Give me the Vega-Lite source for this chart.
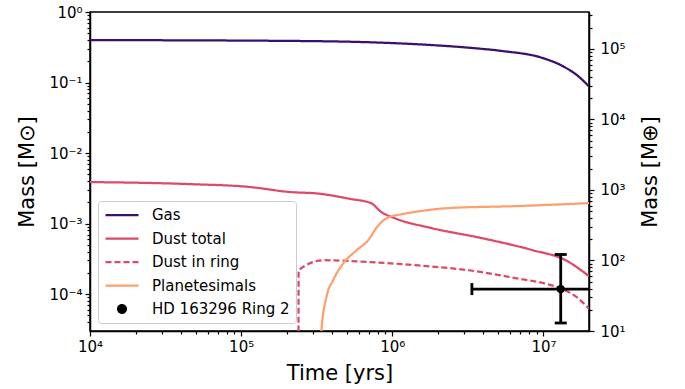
{
  "$schema": "https://vega.github.io/schema/vega-lite/v6.json",
  "width": 499,
  "height": 319,
  "autosize": {"type": "none"},
  "padding": {"left": 90, "top": 12, "right": 96, "bottom": 58},
  "background": "white",
  "config": {
    "view": {"stroke": "black", "strokeWidth": 1.5},
    "font": "DejaVu Sans",
    "axis": {
      "domainColor": "black", "domainWidth": 1.5, "tickColor": "black", "tickWidth": 1.2,
      "labelFont": "DejaVu Sans", "labelFontSize": 15, "labelColor": "black",
      "titleFont": "DejaVu Sans", "titleFontSize": 21, "titleFontWeight": "normal", "titleColor": "black",
      "grid": false, "labelPadding": 3
    }
  },
  "datasets": {
    "lines": [
      {"series": "Gas", "t": 10000, "mass": 0.40},
      {"series": "Gas", "t": 247000, "mass": 0.388},
      {"series": "Gas", "t": 985000, "mass": 0.363},
      {"series": "Gas", "t": 1820000, "mass": 0.340},
      {"series": "Gas", "t": 3360000, "mass": 0.309},
      {"series": "Gas", "t": 5330000, "mass": 0.28},
      {"series": "Gas", "t": 9850000, "mass": 0.223},
      {"series": "Gas", "t": 13400000, "mass": 0.171},
      {"series": "Gas", "t": 16900000, "mass": 0.124},
      {"series": "Gas", "t": 20000000, "mass": 0.088},
      {"series": "Dust total", "t": 10000, "mass": 0.00388},
      {"series": "Dust total", "t": 45700, "mass": 0.00363},
      {"series": "Dust total", "t": 115000, "mass": 0.0033},
      {"series": "Dust total", "t": 212000, "mass": 0.0028},
      {"series": "Dust total", "t": 321000, "mass": 0.00267},
      {"series": "Dust total", "t": 533000, "mass": 0.00223},
      {"series": "Dust total", "t": 724000, "mass": 0.00195},
      {"series": "Dust total", "t": 845000, "mass": 0.00146},
      {"series": "Dust total", "t": 1030000, "mass": 0.0012},
      {"series": "Dust total", "t": 1820000, "mass": 0.000863},
      {"series": "Dust total", "t": 3920000, "mass": 0.000622},
      {"series": "Dust total", "t": 8450000, "mass": 0.000421},
      {"series": "Dust total", "t": 14000000, "mass": 0.000303},
      {"series": "Dust total", "t": 20000000, "mass": 0.00018},
      {"series": "Dust in ring", "t": 239000, "mass": 0.000000001},
      {"series": "Dust in ring", "t": 240000, "mass": 0.000219},
      {"series": "Dust in ring", "t": 352000, "mass": 0.000303},
      {"series": "Dust in ring", "t": 724000, "mass": 0.000284},
      {"series": "Dust in ring", "t": 1400000, "mass": 0.000258},
      {"series": "Dust in ring", "t": 3920000, "mass": 0.000205},
      {"series": "Dust in ring", "t": 6500000, "mass": 0.000169},
      {"series": "Dust in ring", "t": 10000000, "mass": 0.000143},
      {"series": "Dust in ring", "t": 12800000, "mass": 0.000122},
      {"series": "Dust in ring", "t": 16900000, "mass": 0.000088},
      {"series": "Dust in ring", "t": 20000000, "mass": 0.000062},
      {"series": "Planetesimals", "t": 337000, "mass": 0.000012},
      {"series": "Planetesimals", "t": 340000, "mass": 0.000031},
      {"series": "Planetesimals", "t": 367000, "mass": 0.000092},
      {"series": "Planetesimals", "t": 406000, "mass": 0.000158},
      {"series": "Planetesimals", "t": 473000, "mass": 0.000272},
      {"series": "Planetesimals", "t": 581000, "mass": 0.00042},
      {"series": "Planetesimals", "t": 693000, "mass": 0.000583},
      {"series": "Planetesimals", "t": 791000, "mass": 0.00089},
      {"series": "Planetesimals", "t": 920000, "mass": 0.0012},
      {"series": "Planetesimals", "t": 1150000, "mass": 0.00136},
      {"series": "Planetesimals", "t": 1400000, "mass": 0.00146},
      {"series": "Planetesimals", "t": 2360000, "mass": 0.00166},
      {"series": "Planetesimals", "t": 6500000, "mass": 0.00177},
      {"series": "Planetesimals", "t": 20000000, "mass": 0.00195}
    ],
    "obs": [
      {"series": "HD 163296 Ring 2", "t": 13000000, "tmin": 3360000, "tmax": 25000000, "mass": 0.000118, "mmin": 0.000039, "mmax": 0.000365, "mass_earth": 39.3}
    ]
  },
  "layer": [
    {
      "layer": [
        {
          "data": {"name": "lines"},
          "mark": {"type": "line", "strokeWidth": 2.25, "clip": true, "interpolate": "monotone"},
          "encoding": {
            "x": {
              "field": "t", "type": "quantitative",
              "scale": {"type": "log", "domain": [10000, 20000000], "nice": false},
              "axis": {
                "title": "Time [yrs]", "titlePadding": 8,
                "values": [10000, 20000, 30000, 40000, 50000, 60000, 70000, 80000, 90000, 100000, 200000, 300000, 400000, 500000, 600000, 700000, 800000, 900000, 1000000, 2000000, 3000000, 4000000, 5000000, 6000000, 7000000, 8000000, 9000000, 10000000],
                "labelExpr": "abs(log(datum.value)/LN10 - round(log(datum.value)/LN10)) < 0.001 ? ['10⁴','10⁵','10⁶','10⁷'][round(log(datum.value)/LN10)-4] : ''",
                "tickSize": {"condition": {"test": "abs(log(datum.value)/LN10 - round(log(datum.value)/LN10)) < 0.001", "value": 5}, "value": 3},
                "labelFlush": false
              }
            },
            "y": {
              "field": "mass", "type": "quantitative",
              "scale": {"type": "log", "domain": [0.00003003, 1], "nice": false},
              "axis": {
                "title": "Mass [M⊙]", "titlePadding": 11,
                "values": [0.00004, 0.00005, 0.00006, 0.00007, 0.00008, 0.00009, 0.0001, 0.0002, 0.0003, 0.0004, 0.0005, 0.0006, 0.0007, 0.0008, 0.0009, 0.001, 0.002, 0.003, 0.004, 0.005, 0.006, 0.007, 0.008, 0.009, 0.01, 0.02, 0.03, 0.04, 0.05, 0.06, 0.07, 0.08, 0.09, 0.1, 0.2, 0.3, 0.4, 0.5, 0.6, 0.7, 0.8, 0.9, 1],
                "labelExpr": "abs(log(datum.value)/LN10 - round(log(datum.value)/LN10)) < 0.001 ? ['10⁻⁴','10⁻³','10⁻²','10⁻¹','10⁰'][round(log(datum.value)/LN10)+4] : ''",
                "tickSize": {"condition": {"test": "abs(log(datum.value)/LN10 - round(log(datum.value)/LN10)) < 0.001", "value": 5}, "value": 3},
                "labelFlush": false
              }
            },
            "color": {
              "field": "series", "type": "nominal",
              "scale": {"domain": ["Gas", "Dust total", "Dust in ring", "Planetesimals", "HD 163296 Ring 2"], "range": ["#3b0f70", "#de4968", "#de4968", "#fe9f6d", "#000000"]},
              "legend": {
                "title": null, "orient": "bottom-left", "offset": 8,
                "labelFontSize": 15, "labelFont": "DejaVu Sans", "labelColor": "black", "labelOffset": 12,
                "symbolType": "stroke", "symbolSize": 1089, "symbolStrokeWidth": 2.25,
                "clipHeight": 16, "rowPadding": 7.5, "padding": 6,
                "strokeColor": "#cccccc", "fillColor": "rgba(255,255,255,0.8)", "cornerRadius": 3,
                "encode": {
                  "symbols": {
                    "update": {
                      "shape": {"signal": "datum.label === 'HD 163296 Ring 2' ? 'circle' : 'stroke'"},
                      "size": {"signal": "datum.label === 'HD 163296 Ring 2' ? 60 : 1089"},
                      "fill": {"signal": "datum.label === 'HD 163296 Ring 2' ? 'black' : 'transparent'"}
                    }
                  }
                }
              }
            },
            "strokeDash": {
              "field": "series", "type": "nominal",
              "scale": {"domain": ["Gas", "Dust total", "Dust in ring", "Planetesimals", "HD 163296 Ring 2"], "range": [[1, 0], [1, 0], [6, 3], [1, 0], [1, 0]]},
              "legend": null
            }
          }
        },
        {
          "data": {"name": "obs"},
          "mark": {"type": "rule", "strokeWidth": 2.8, "color": "black", "clip": true},
          "encoding": {
            "x": {"field": "tmin", "type": "quantitative"},
            "x2": {"field": "tmax"},
            "y": {"field": "mass", "type": "quantitative"}
          }
        },
        {
          "data": {"name": "obs"},
          "mark": {"type": "rule", "strokeWidth": 2.8, "color": "black", "clip": true},
          "encoding": {
            "x": {"field": "t", "type": "quantitative"},
            "y": {"field": "mmin", "type": "quantitative"},
            "y2": {"field": "mmax"}
          }
        },
        {
          "data": {"name": "obs"},
          "mark": {"type": "tick", "orient": "horizontal", "size": 12, "thickness": 2.8, "color": "black", "opacity": 1, "clip": true},
          "encoding": {
            "x": {"field": "t", "type": "quantitative"},
            "y": {"field": "mmin", "type": "quantitative"}
          }
        },
        {
          "data": {"name": "obs"},
          "mark": {"type": "tick", "orient": "horizontal", "size": 12, "thickness": 2.8, "color": "black", "opacity": 1, "clip": true},
          "encoding": {
            "x": {"field": "t", "type": "quantitative"},
            "y": {"field": "mmax", "type": "quantitative"}
          }
        },
        {
          "data": {"name": "obs"},
          "mark": {"type": "tick", "orient": "vertical", "size": 12, "thickness": 2.8, "color": "black", "opacity": 1, "clip": true},
          "encoding": {
            "x": {"field": "tmin", "type": "quantitative"},
            "y": {"field": "mass", "type": "quantitative"}
          }
        },
        {
          "data": {"name": "obs"},
          "mark": {"type": "point", "filled": true, "size": 70, "opacity": 1, "clip": true},
          "encoding": {
            "x": {"field": "t", "type": "quantitative"},
            "y": {"field": "mass", "type": "quantitative"},
            "color": {"field": "series", "type": "nominal"}
          }
        }
      ]
    },
    {
      "data": {"name": "obs"},
      "mark": {"type": "point", "opacity": 0},
      "encoding": {
        "x": {"field": "t", "type": "quantitative"},
        "y": {
          "field": "mass_earth", "type": "quantitative",
          "scale": {"type": "log", "domain": [10, 333000], "nice": false},
          "axis": {
            "orient": "right", "title": "Mass [M⊕]", "titlePadding": 14, "titleAngle": 270, "titleBaseline": "top",
            "labelPadding": 6,
            "values": [10, 20, 30, 40, 50, 60, 70, 80, 90, 100, 200, 300, 400, 500, 600, 700, 800, 900, 1000, 2000, 3000, 4000, 5000, 6000, 7000, 8000, 9000, 10000, 20000, 30000, 40000, 50000, 60000, 70000, 80000, 90000, 100000, 200000, 300000],
            "labelExpr": "abs(log(datum.value)/LN10 - round(log(datum.value)/LN10)) < 0.001 ? ['10¹','10²','10³','10⁴','10⁵'][round(log(datum.value)/LN10)-1] : ''",
            "tickSize": {"condition": {"test": "abs(log(datum.value)/LN10 - round(log(datum.value)/LN10)) < 0.001", "value": 5}, "value": 3},
            "labelFlush": false
          }
        }
      }
    }
  ],
  "resolve": {"scale": {"y": "independent"}}
}
